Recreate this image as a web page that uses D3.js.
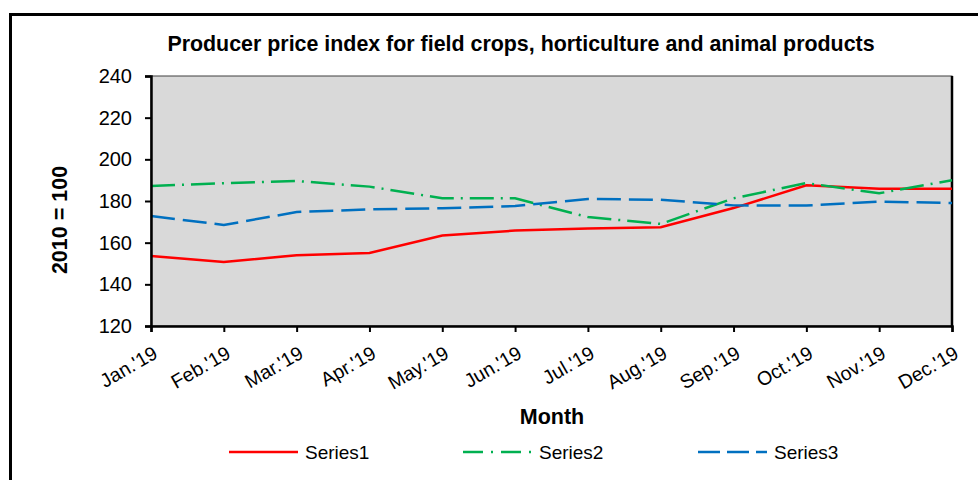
<!DOCTYPE html>
<html>
<head>
<meta charset="utf-8">
<script src="https://cdn.jsdelivr.net/npm/d3@7"></script>
<style>
  body { margin: 0; background: #fff; }
  text { font-family: "Liberation Sans", Arial, sans-serif; fill: #000; }
</style>
</head>
<body>
<div id="chart"></div>
<script>
// data
var months = ["Jan.'19", "Feb.'19", "Mar.'19", "Apr.'19", "May.'19", "Jun.'19",
              "Jul.'19", "Aug.'19", "Sep.'19", "Oct.'19", "Nov.'19", "Dec.'19"];
var series1 = [153.6, 150.7, 154.0, 155.0, 163.4, 165.8, 166.8, 167.4, 176.6, 187.5, 185.9, 185.9];
var series2 = [187.2, 188.5, 189.6, 186.9, 181.3, 181.3, 172.3, 169.0, 181.3, 188.6, 183.7, 190.0];
var series3 = [172.8, 168.5, 174.7, 176.0, 176.5, 177.6, 181.0, 180.6, 177.9, 177.8, 179.7, 179.0];
var yTicks = [120, 140, 160, 180, 200, 220, 240];
var seriesNames = ["Series1", "Series2", "Series3"];

var W = 978, H = 480;
var svg = d3.select("#chart").append("svg").attr("width", W).attr("height", H);

// outer frame, runs off the right and bottom edges like the original
svg.append("rect")
    .attr("x", 10.5).attr("y", 14.5)
    .attr("width", 1000).attr("height", 500)
    .attr("fill", "none").attr("stroke", "#000").attr("stroke-width", 3);

var pLeft = 151, pRight = 952, pTop = 76, pBottom = 326;

var x = d3.scalePoint().domain(months).range([pLeft, pRight]);
var y = d3.scaleLinear().domain([120, 240]).range([pBottom, pTop]);

svg.append("rect")
    .attr("x", pLeft).attr("y", pTop)
    .attr("width", pRight - pLeft).attr("height", pBottom - pTop)
    .attr("fill", "#d9d9d9").attr("stroke", "#404040").attr("stroke-width", 1);

// right edge of the plot is dark
svg.append("line")
    .attr("x1", pRight).attr("x2", pRight).attr("y1", pTop).attr("y2", pBottom)
    .attr("stroke", "#000").attr("stroke-width", 2.5);

var colors = ["#ff0000", "#00b050", "#0070c0"];
var dashes = [null, "24,7,2,7", "24,8"];
var allSeries = [series1, series2, series3];

var line = d3.line()
    .x(function (d, i) { return x(months[i]); })
    .y(function (d) { return y(d); });

allSeries.forEach(function (s, k) {
    svg.append("path")
        .datum(s)
        .attr("d", line)
        .attr("fill", "none")
        .attr("stroke", colors[k])
        .attr("stroke-width", 2.5)
        .attr("stroke-dasharray", dashes[k]);
});

// axes
var yAxis = svg.append("g")
    .attr("transform", "translate(" + pLeft + ",0)")
    .call(d3.axisLeft(y).tickValues(yTicks).tickSize(6).tickPadding(13));
var xAxis = svg.append("g")
    .attr("transform", "translate(0," + pBottom + ")")
    .call(d3.axisBottom(x).tickSize(6).tickFormat(""));

[yAxis, xAxis].forEach(function (a) {
    a.select(".domain").attr("stroke", "#000").attr("stroke-width", 2.5);
    a.selectAll(".tick line").attr("stroke", "#000").attr("stroke-width", 2);
});
yAxis.selectAll(".tick text")
    .style("font-size", "20px")
    .style("font-family", "Liberation Sans, Arial, sans-serif");

// rotated month labels
svg.selectAll(".mlabel")
    .data(months)
    .enter()
    .append("text")
    .attr("class", "mlabel")
    .attr("transform", function (d) { return "translate(" + (x(d) + 8) + ",357) rotate(-30)"; })
    .attr("text-anchor", "end")
    .style("font-size", "19.5px")
    .text(function (d) { return d; });

// titles
svg.append("text")
    .attr("x", 521).attr("y", 51)
    .attr("text-anchor", "middle")
    .style("font-size", "21.4px")
    .style("font-weight", "bold")
    .text("Producer price index for field crops, horticulture and animal products");

svg.append("text")
    .attr("transform", "translate(67,220) rotate(-90)")
    .attr("text-anchor", "middle")
    .style("font-size", "21.5px")
    .style("font-weight", "bold")
    .text("2010 = 100");

svg.append("text")
    .attr("x", 552).attr("y", 424)
    .attr("text-anchor", "middle")
    .style("font-size", "21.5px")
    .style("font-weight", "bold")
    .text("Month");

// legend
var legX = [229, 463, 698];
var leg = svg.selectAll(".legend")
    .data(seriesNames)
    .enter()
    .append("g")
    .attr("transform", function (d, i) { return "translate(" + legX[i] + ",452)"; });
leg.append("line")
    .attr("x1", 0).attr("x2", 69)
    .attr("stroke", function (d, i) { return colors[i]; })
    .attr("stroke-width", 2.5)
    .attr("stroke-dasharray", function (d, i) { return i === 1 ? "20,8,2,8" : dashes[i] ? "22,7" : null; });
leg.append("text")
    .attr("x", 76).attr("y", 7)
    .style("font-size", "19px")
    .text(function (d) { return d; });
</script>
</body>
</html>
